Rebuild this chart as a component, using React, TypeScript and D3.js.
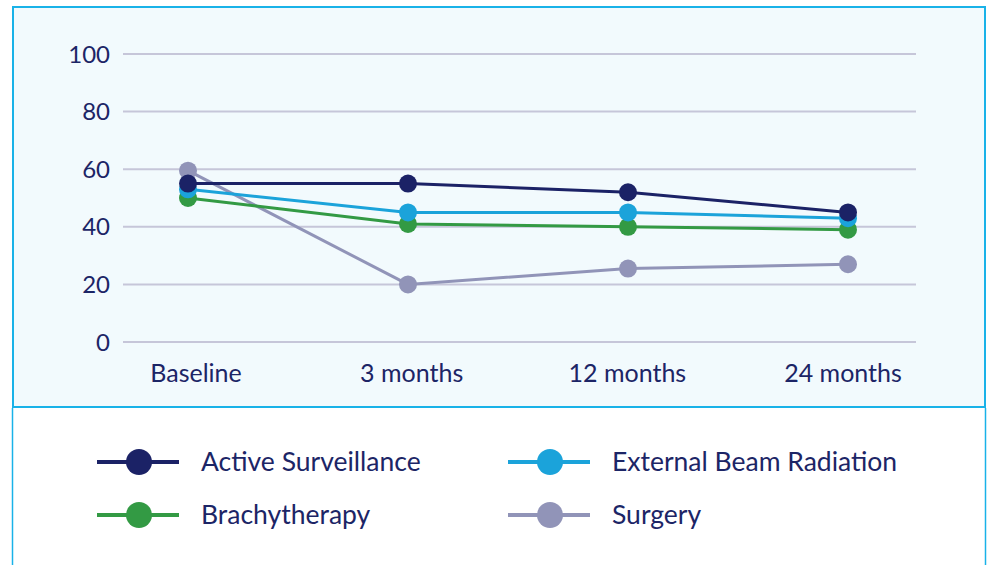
import { useRef, useEffect } from "react";
import { select, scaleLinear, scalePoint, line } from "d3";

// Data
const categories = ["Baseline", "3 months", "12 months", "24 months"];
const seriesNames = ["Active Surveillance", "External Beam Radiation", "Brachytherapy", "Surgery"];
const activeSurveillance = [55, 55, 52, 45];
const externalBeam = [53, 45, 45, 43];
const brachytherapy = [50, 41, 40, 39];
const surgery = [59.5, 20, 25.5, 27];
const yTicks = [0, 20, 40, 60, 80, 100];

const colors = ["#1b2266", "#1ba3da", "#339a44", "#9194b8"];
const textColor = "#1c2566";
const font = "Lato, 'Open Sans', sans-serif";

export default function App() {
  const svgRef = useRef<SVGSVGElement | null>(null);

  useEffect(() => {
    const svg = select(svgRef.current);
    svg.selectAll("*").remove();

    const series = [
      { name: seriesNames[0], values: activeSurveillance, color: colors[0] },
      { name: seriesNames[1], values: externalBeam, color: colors[1] },
      { name: seriesNames[2], values: brachytherapy, color: colors[2] },
      { name: seriesNames[3], values: surgery, color: colors[3] },
    ];

    // frame
    svg.append("rect")
      .attr("x", 13).attr("y", 7).attr("width", 972).attr("height", 400)
      .attr("fill", "#f2fafd").attr("stroke", "#19b2e8").attr("stroke-width", 2);
    svg.append("line").attr("x1", 12.5).attr("x2", 12.5).attr("y1", 408).attr("y2", 565)
      .attr("stroke", "#19b2e8").attr("stroke-width", 1.5);
    svg.append("line").attr("x1", 985.5).attr("x2", 985.5).attr("y1", 408).attr("y2", 565)
      .attr("stroke", "#19b2e8").attr("stroke-width", 1.5);

    // scales
    const x = scalePoint<string>().domain(categories).range([188, 848]);
    const xLabel = scalePoint<string>().domain(categories).range([196, 843]);
    const y = scaleLinear().domain([0, 100]).range([342, 54]);

    // grid + y labels
    const grid = svg.append("g");
    grid.selectAll("line").data(yTicks).join("line")
      .attr("x1", 123).attr("x2", 916)
      .attr("y1", (d) => y(d)).attr("y2", (d) => y(d))
      .attr("stroke", "#c6c6d9").attr("stroke-width", 2);
    grid.selectAll("text").data(yTicks).join("text")
      .attr("x", 110).attr("y", (d) => y(d) + 8.5)
      .attr("text-anchor", "end")
      .attr("font-family", font).attr("font-size", 24).attr("fill", textColor)
      .text((d) => d);

    // x labels
    svg.append("g").selectAll("text").data(categories).join("text")
      .attr("x", (d) => xLabel(d)!).attr("y", 382)
      .attr("text-anchor", "middle")
      .attr("font-family", font).attr("font-size", 25).attr("fill", textColor)
      .text((d) => d);

    // lines
    const lineGen = line<number>()
      .x((_, i) => x(categories[i])!)
      .y((d) => y(d));

    const drawOrder = [3, 2, 1, 0];
    drawOrder.forEach((k) => {
      const s = series[k];
      svg.append("path")
        .attr("d", lineGen(s.values))
        .attr("fill", "none").attr("stroke", s.color).attr("stroke-width", 3);
    });
    drawOrder.forEach((k) => {
      const s = series[k];
      svg.append("g").selectAll("circle").data(s.values).join("circle")
        .attr("cx", (_, i) => x(categories[i])!)
        .attr("cy", (d) => y(d))
        .attr("r", 9)
        .attr("fill", s.color);
    });

    // legend
    const legendOrder = [0, 1, 2, 3];
    const legend = svg.append("g");
    legendOrder.forEach((k, idx) => {
      const s = series[k];
      const col = idx % 2;
      const row = Math.floor(idx / 2);
      const lx = col === 0 ? 97 : 508;
      const ly = row === 0 ? 462 : 515;
      const g = legend.append("g").attr("transform", `translate(${lx},${ly})`);
      g.append("line").attr("x1", 0).attr("x2", 82).attr("y1", 0).attr("y2", 0)
        .attr("stroke", s.color).attr("stroke-width", 4);
      g.append("circle").attr("cx", 42).attr("cy", 0).attr("r", 13).attr("fill", s.color);
      g.append("text").attr("x", 104).attr("y", 9)
        .attr("font-family", font).attr("font-size", 26.5).attr("fill", textColor)
        .text(s.name);
    });
  }, []);

  return (
    <svg
      ref={svgRef}
      width={988}
      height={565}
      style={{ position: "absolute", left: 0, top: 0, display: "block" }}
    />
  );
}
